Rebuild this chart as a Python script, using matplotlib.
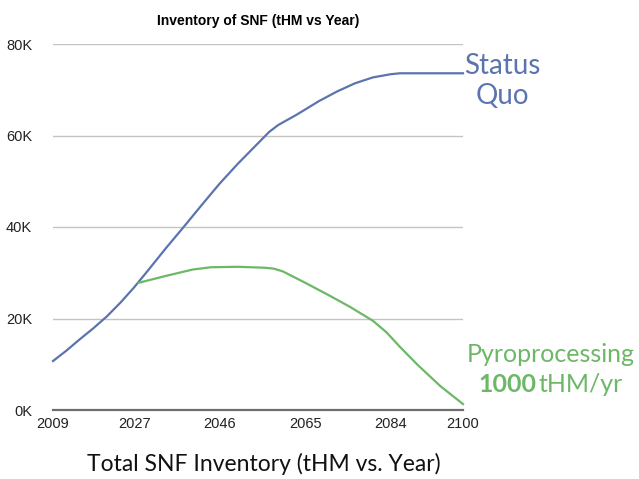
import matplotlib
matplotlib.use("Agg")
import matplotlib.pyplot as plt

years_quo = [2009, 2012, 2015, 2018, 2021, 2024, 2027, 2030, 2034, 2038, 2042, 2046,
             2050, 2054, 2057, 2059, 2063, 2068, 2072, 2076, 2080, 2084, 2086, 2100]
status_quo = [10.7, 13.0, 15.5, 17.9, 20.5, 23.5, 26.8, 30.4, 35.3, 40.0, 44.8, 49.5,
              53.8, 57.8, 60.8, 62.3, 64.5, 67.5, 69.6, 71.4, 72.7, 73.4, 73.6, 73.6]

years_pyro = [2028, 2034, 2040, 2044, 2050, 2056, 2058, 2060, 2065, 2070, 2075,
              2080, 2083, 2086, 2090, 2095, 2100]
pyro = [27.8, 29.3, 30.7, 31.2, 31.3, 31.1, 30.9, 30.3, 27.8, 25.2, 22.5,
        19.5, 17.0, 13.8, 9.8, 5.2, 1.3]

x_ticks = [2009, 2027, 2046, 2065, 2084, 2100]
y_ticks = [0, 20, 40, 60, 80]
y_labels = ["0K", "20K", "40K", "60K", "80K"]

blue = "#5B74B0"
green = "#6CB866"

W, H = 639, 479
fig = plt.figure(figsize=(W / 100, H / 100), dpi=100)
ax = fig.add_axes([53 / W, 1 - 410 / H, (463 - 53) / W, (410 - 44) / H])

for y in y_ticks[1:]:
    ax.axhline(y, color="#C4C4C4", lw=1.0, zorder=1)
ax.axhline(0, color="#6E6E6E", lw=1.6, zorder=1, clip_on=False)

ax.plot(years_quo, status_quo, color=blue, lw=1.6, zorder=3, clip_on=False)
ax.plot(years_pyro, pyro, color=green, lw=1.6, zorder=3, clip_on=False)

ax.set_xlim(2009, 2100)
ax.set_ylim(0, 80)
ax.set_xticks(x_ticks)
ax.set_yticks(y_ticks)
ax.set_yticklabels(y_labels)
ax.tick_params(length=0, labelsize=10.5, colors="#222222")
ax.tick_params(axis="y", pad=15)
ax.tick_params(axis="x", pad=5)
for lab in ax.get_xticklabels() + ax.get_yticklabels():
    lab.set_family("Liberation Sans")
for s in ax.spines.values():
    s.set_visible(False)

fig.text(258 / W, 1 - 21 / H, "Inventory of SNF (tHM vs Year)", ha="center",
         va="center", fontsize=10, fontweight="bold", family="Liberation Sans")

fig.text(502 / W, 1 - 66 / H, "Status", ha="center", va="center",
         fontsize=20, color=blue, family="Lato")
fig.text(502 / W, 1 - 96 / H, "Quo", ha="center", va="center",
         fontsize=20, color=blue, family="Lato")

fig.text(551 / W, 1 - 354 / H, "Pyroprocessing", ha="center", va="center",
         fontsize=18, color=green, family="Lato")
fig.text(478 / W, 1 - 384 / H, "1000", ha="left", va="center",
         fontsize=18, color=green, family="Lato", fontweight="bold")
fig.text(623 / W, 1 - 384 / H, "tHM/yr", ha="right", va="center",
         fontsize=18, color=green, family="Lato")

fig.text(264 / W, 1 - 464 / H, "Total SNF Inventory (tHM vs. Year)", ha="center",
         va="center", fontsize=16.5, color="#111111", family="Lato")

fig.savefig("out.png", dpi=100)
